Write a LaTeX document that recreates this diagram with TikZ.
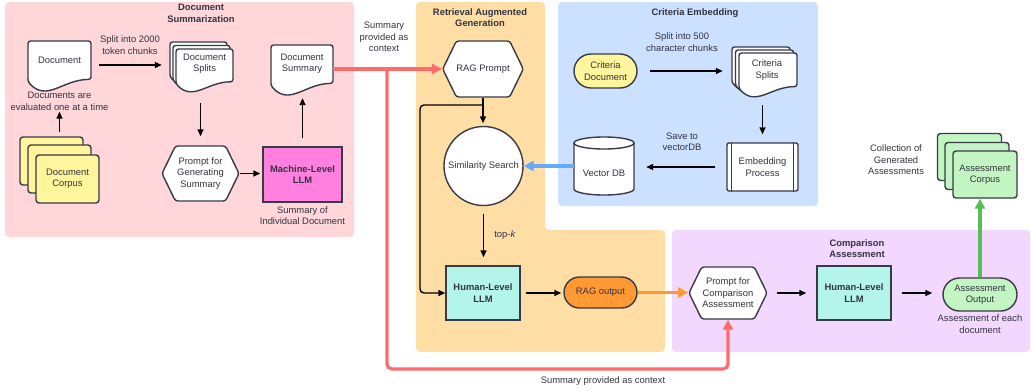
\documentclass[tikz,border=0pt]{standalone}
\usepackage{fontspec}
\setmainfont{Liberation Sans}
\usetikzlibrary{arrows.meta,shapes.symbols,shapes.misc,calc}
\definecolor{pinkbg}{RGB}{255,214,218}
\definecolor{orangebg}{RGB}{255,222,166}
\definecolor{bluebg}{RGB}{204,224,255}
\definecolor{purplebg}{RGB}{242,216,254}
\definecolor{magentac}{RGB}{255,128,223}
\definecolor{tealc}{RGB}{179,245,234}
\definecolor{yellowc}{RGB}{255,245,157}
\definecolor{greenc}{RGB}{195,245,195}
\definecolor{orangec}{RGB}{255,153,51}
\definecolor{redarr}{RGB}{255,107,107}
\definecolor{bluearr}{RGB}{102,170,255}
\definecolor{greenarr}{RGB}{85,190,85}
\definecolor{textc}{RGB}{51,51,64}
\definecolor{linec}{RGB}{58,58,70}
\newcommand\fs{\fontsize{9.4}{11.4}\selectfont}
\newcommand\docshape[5]{%
 \filldraw[shapeline,fill=#5,rounded corners=2.5pt] ({#1},{#4-0.15*(#4-#2)}) -- ({#1},{#2}) -- ({#3},{#2}) -- ({#3},{#4-0.2*(#4-#2)}) .. controls ({#1+0.55*(#3-#1)},{#4-0.2*(#4-#2)}) and ({#1+0.3*(#3-#1)},{#4+0.28*(#4-#2)}) .. ({#1},{#4-0.15*(#4-#2)}) -- cycle;}
\tikzset{
 shapeline/.style={draw=linec,line width=1.4pt},
 txt/.style={font=\fs,text=textc,align=center,inner sep=0pt},
 txtb/.style={txt,font=\fs\bfseries},
 arr/.style={draw=black,line width=1.4pt,-{Triangle[length=7pt,width=6pt]}},
 fat/.style={line width=3.2pt,-{Triangle[length=10pt,width=10pt]}},
 hexa/.style={signal,signal to=east and west,signal pointer angle=128,shapeline,fill=white,rounded corners=2.5pt,txt},
 box/.style={rectangle,shapeline,txtb},
 stad/.style={rounded rectangle,shapeline,txt},
 geo/.style={rectangle,draw=none,inner sep=0pt},
 stackbox/.style={rectangle,shapeline,rounded corners=3pt,txt},
}
\begin{document}
\begin{tikzpicture}[x=1pt,y=-1pt]
\useasboundingbox (0,0) rectangle (1032,391);
% zones
\fill[pinkbg,rounded corners=4pt] (5,2) rectangle (354,237);
\fill[orangebg,rounded corners=4pt] (416,2) -- (545,2) -- (545,230) -- (665,230) -- (665,352) -- (416,352) -- cycle;
\fill[bluebg,rounded corners=4pt] (558,2) rectangle (818,206);
\fill[purplebg,rounded corners=4pt] (672,230) rectangle (1030,352);
% titles
\node[txtb] (tSum) at (201,13.5) {Document\\Summarization};
\node[txtb] (tRag) at (480,17.5) {Retrieval Augmented\\Generation};
\node[txtb] (tCrit) at (695,13) {Criteria Embedding};
\node[txtb] (tCmp) at (857,248.5) {Comparison\\Assessment};
% Document
\docshape{28}{41}{91}{89}{white}
\node[geo,minimum width=63pt,minimum height=48pt] (doc) at (59.5,65) {};
\node[txt] (docT) at (59.5,60) {Document};
\node[txt] (lblEval) at (59.5,101.5) {Documents are\\evaluated one at a time};
% Corpus
\node[stackbox,fill=yellowc,minimum width=63pt,minimum height=48pt] (corpusB) at (51.5,161) {};
\node[stackbox,fill=yellowc,minimum width=63pt,minimum height=48pt] (corpusM) at (59.5,169) {};
\node[stackbox,fill=yellowc,minimum width=63pt,minimum height=48pt] (corpus) at (67.5,179) {Document\\Corpus};
\draw[arr,shorten <=4pt,shorten >=1pt] (corpusB.north -| lblEval.south) -- (lblEval.south);
% Splits
\node[txt] (lblSplit) at (130,45) {Split into 2000\\token chunks};
\docshape{170}{42}{227}{83}{white}
\docshape{173}{45.5}{230}{86.5}{white}
\docshape{176}{49}{233}{90}{white}
\node[geo,minimum width=57pt,minimum height=41pt] (splits) at (204.5,69.5) {};
\node[txt] (splitsT) at (204.5,64) {Document\\Splits};
\draw[arr,shorten <=8pt,shorten >=14pt] (doc.east) -- (splits.west |- doc.east);
% Prompt + LLM
\node[hexa,minimum width=77pt,minimum height=55pt] (gprompt) at (200.5,173.5) {Prompt for\\Generating\\Summary};
\draw[arr,shorten <=13pt,shorten >=9pt] (splits.south -| gprompt.north) -- (gprompt.north);
\node[box,fill=magentac,minimum width=79pt,minimum height=55pt] (mllm) at (302.5,174.5) {Machine-Level\\LLM};
\draw[arr,shorten >=2pt] (gprompt.east) -- (mllm.west |- gprompt.east);
\node[txt] (lblSumInd) at (302.5,215.5) {Summary of\\Individual Document};
\docshape{271}{45}{333}{93}{white}
\node[geo,minimum width=62pt,minimum height=48pt] (docsum) at (302,69) {};
\node[txt] (docsumT) at (302,64) {Document\\Summary};
\draw[arr,shorten <=8pt,shorten >=5pt] (mllm.north) -- (mllm.north |- docsum.south);
% RAG
\node[hexa,minimum width=78pt,minimum height=56pt] (ragp) at (483,69) {RAG Prompt};
\node[txt] (lblCtx) at (384,37) {Summary\\provided as\\context};
\node[circle,shapeline,fill=white,txt,minimum size=79pt] (sim) at (483.5,166) {Similarity Search};
\node[box,fill=tealc,minimum width=74pt,minimum height=54pt] (hllm) at (483,293) {Human-Level\\LLM};
\draw[arr,shorten >=2.5pt] (ragp.south) -- (ragp.south |- sim.north);
\coordinate (ragsplit) at (483,105);
\draw[arr,rounded corners=4pt] (ragsplit) -- (420,105) |- (hllm.west);
\draw[arr,shorten <=7.5pt,shorten >=8pt] (sim.south) -- (sim.south |- hllm.north);
\node[txt] (topk) at (505,235) {top-\textit{k}};
\node[stad,fill=orangec,minimum width=73pt,minimum height=31pt] (ragout) at (600.5,292.5) {RAG output};
\draw[arr,shorten <=5pt,shorten >=2pt] (hllm.east) -- (ragout.west |- hllm.east);
% Criteria
\node[stad,fill=yellowc,minimum width=63pt,minimum height=34pt] (critdoc) at (605.5,71) {Criteria\\Document};
\node[txt] (lblSplit500) at (682,42) {Split into 500\\character chunks};
\docshape{732}{47}{790}{89}{white}
\docshape{735.5}{50}{793.5}{92}{white}
\docshape{739}{53}{797}{95}{white}
\node[geo,minimum width=58pt,minimum height=42pt] (critS) at (768,74) {};
\node[txt] (critST) at (767,70) {Criteria\\Splits};
\draw[arr,shorten <=12pt,shorten >=16pt] (critdoc.east) -- (critS.west |- critdoc.east);
\node[rectangle,shapeline,fill=white,txt,minimum width=71pt,minimum height=48pt,rounded corners=2pt] (embed) at (762.5,167) {Embedding\\Process};
\draw[shapeline] ([xshift=5pt]embed.north west) -- ([xshift=5pt]embed.south west);
\draw[shapeline] ([xshift=-5pt]embed.north east) -- ([xshift=-5pt]embed.south east);
\draw[arr,shorten <=10pt,shorten >=8pt] (critS.south -| embed.north) -- (embed.north);
\filldraw[shapeline,fill=white] (574,143) -- (574,189) arc[start angle=180,end angle=360,x radius=30pt,y radius=6pt] -- (634,143) arc[start angle=0,end angle=180,x radius=30pt,y radius=6pt] -- cycle;
\draw[shapeline] (574,143) arc[start angle=180,end angle=360,x radius=30pt,y radius=6pt];
\node[geo,minimum width=60pt,minimum height=58pt] (vdb) at (604,166) {};
\node[txt] (vdbT) at (604,173) {Vector DB};
\draw[arr,shorten <=11pt,shorten >=12pt] (embed.west) -- (vdb.east |- embed.west);
\node[txt] (lblSave) at (682,141.5) {Save to\\vectorDB};
\draw[fat,draw=bluearr] (vdb.west) -- (sim.east);
% Comparison
\node[hexa,minimum width=78pt,minimum height=52pt] (cprompt) at (728,293) {Prompt for\\Comparison\\Assessment};
\node[box,fill=tealc,minimum width=74pt,minimum height=54pt] (hllm2) at (854,293) {Human-Level\\LLM};
\node[stad,fill=greenc,minimum width=74pt,minimum height=33pt] (aout) at (980,294.5) {Assessment\\Output};
\node[txt] (lblEach) at (980,324) {Assessment of each\\document};
\draw[arr,shorten <=9pt,shorten >=10pt] (cprompt.east) -- (hllm2.west);
\draw[arr,shorten <=10pt,shorten >=10pt] (hllm2.east) -- (aout.west |- hllm2.east);
\draw[fat,draw=orangec] (ragout.east) -- (cprompt.west |- ragout.east);
% Assessment corpus
\node[stackbox,fill=greenc,minimum width=64pt,minimum height=47pt] (acorpusB) at (969.5,157) {};
\node[stackbox,fill=greenc,minimum width=64pt,minimum height=47pt] (acorpusM) at (977,166) {};
\node[stackbox,fill=greenc,minimum width=64pt,minimum height=47pt] (acorpus) at (985,174.5) {Assessment\\Corpus};
\node[txt] (lblColl) at (896,160) {Collection of\\Generated\\Assessments};
\draw[fat,draw=greenarr] (aout.north) -- (aout.north |- acorpus.south);
% Red summary-context lines
\draw[fat,draw=redarr] (docsum.east) -- (ragp.west);
\coordinate (rsplit) at (387,69);
\coordinate (rlow) at (387,369);
\draw[fat,draw=redarr,rounded corners=5pt] (rsplit) -- (rlow) -| (cprompt.south);
\node[txt] (lblCtx2) at (603,381) {Summary provided as context};
\end{tikzpicture}
\end{document}
